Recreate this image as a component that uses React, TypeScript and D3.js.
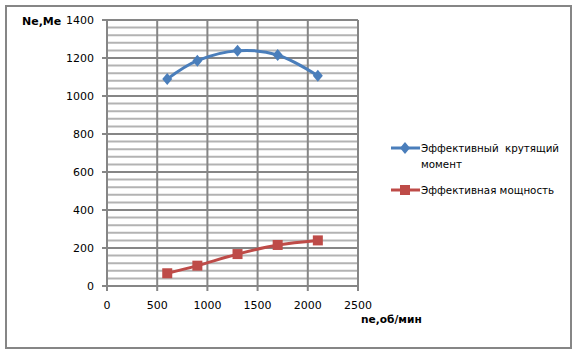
import * as d3 from 'd3';
import React from 'react';

const rpm = [600, 900, 1300, 1700, 2100];
const torque = [1089, 1186, 1238, 1216, 1107];
const power = [67, 107, 168, 216, 240];
const xTicks = [0, 500, 1000, 1500, 2000, 2500];
const yTicks = [0, 200, 400, 600, 800, 1000, 1200, 1400];
const seriesNames = ['Эффективный крутящий момент', 'Эффективная мощность'];
const colors = ['#4A7EBB', '#BE4B48'];

export default function App() {
  const w = 576;
  const h = 353;
  const font = 'Tahoma, "DejaVu Sans", sans-serif';

  const xScale = d3.scaleLinear().domain([0, 2500]).range([107, 358]);
  const yScale = d3.scaleLinear().domain([0, 1400]).range([286, 20]);

  const line = d3
    .line<number>()
    .x((_, i) => xScale(rpm[i]))
    .y((d) => yScale(d))
    .curve(d3.curveCardinal.tension(0));

  const minor = d3.range(0, 1401, 40).filter((v) => v % 200 !== 0);

  // legend text is wrapped in two lines like Excel does it
  const name0 = seriesNames[0].split(' ');

  return (
    <svg width={w} height={h} style={{ position: 'absolute', left: 0, top: 0, background: 'white' }}>
      <rect x={6} y={6} width={565} height={342} fill='white' stroke='#868686' strokeWidth={2} />
      {minor.map((v) => (
        <line key={'m' + v} x1={xScale(0)} x2={xScale(2500)} y1={yScale(v)} y2={yScale(v)} stroke='#B3B3B3' strokeWidth={2} />
      ))}
      {yTicks.map((v) => (
        <line key={'y' + v} x1={xScale(0) - 5} x2={xScale(2500)} y1={yScale(v)} y2={yScale(v)} stroke='#868686' strokeWidth={2} />
      ))}
      {xTicks.map((v) => (
        <line key={'x' + v} x1={xScale(v)} x2={xScale(v)} y1={yScale(1400)} y2={yScale(0) + 5} stroke='#868686' strokeWidth={2} />
      ))}
      {yTicks.map((v) => (
        <text key={'yt' + v} x={94} y={yScale(v) + 4} textAnchor='end' fontSize={11} fontFamily={font} fill='#000'>
          {v}
        </text>
      ))}
      {xTicks.map((v) => (
        <text key={'xt' + v} x={xScale(v)} y={309} textAnchor='middle' fontSize={11} fontFamily={font} fill='#000'>
          {v}
        </text>
      ))}
      <text x={22} y={25} fontSize={11} fontWeight='bold' fontFamily={font}>
        Ne,Me
      </text>
      <text x={361} y={323} fontSize={10.6} fontWeight='bold' fontFamily={font}>
        ne,об/мин
      </text>

      <path d={line(torque) ?? ''} fill='none' stroke={colors[0]} strokeWidth={3} />
      <path d={line(power) ?? ''} fill='none' stroke={colors[1]} strokeWidth={3} />
      {torque.map((v, i) => (
        <path
          key={'d' + i}
          transform={`translate(${xScale(rpm[i])},${yScale(v)})`}
          d='M0,-6 L5,0 L0,6 L-5,0 Z'
          fill={colors[0]}
        />
      ))}
      {power.map((v, i) => (
        <rect key={'s' + i} x={xScale(rpm[i]) - 5} y={yScale(v) - 5} width={10} height={10} fill={colors[1]} />
      ))}

      <g fontFamily={font} fontSize={10.3} fill='#000'>
        <line x1={391} x2={420} y1={148} y2={148} stroke={colors[0]} strokeWidth={3} />
        <path transform='translate(405,148)' d='M0,-6 L5,0 L0,6 L-5,0 Z' fill={colors[0]} />
        <text x={421} y={152} wordSpacing={3}>{name0.slice(0, 2).join(' ')}</text>
        <text x={421} y={168}>{name0[2]}</text>
        <line x1={391} x2={420} y1={190} y2={190} stroke={colors[1]} strokeWidth={3} />
        <rect x={400} y={185} width={10} height={10} fill={colors[1]} />
        <text x={421} y={194}>{seriesNames[1]}</text>
      </g>
    </svg>
  );
}
